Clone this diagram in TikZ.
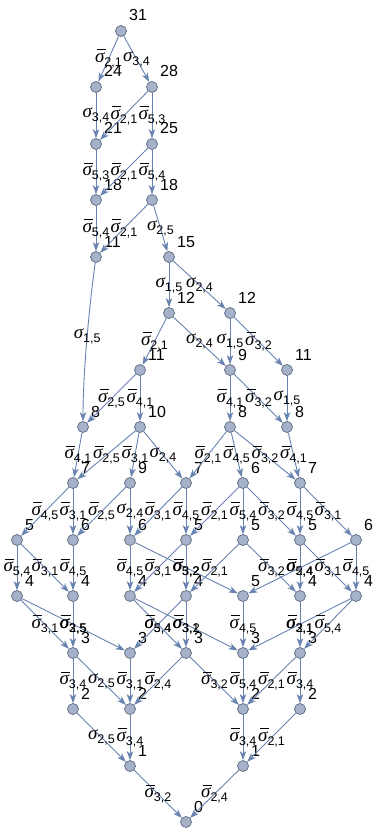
\documentclass[tikz,border=0pt]{standalone}
\usepackage{fontspec}
\setmainfont{Liberation Sans}
\newfontfamily\grk{Liberation Serif}
\usetikzlibrary{arrows.meta}
\definecolor{vfill}{RGB}{166,178,201}
\definecolor{vdraw}{RGB}{92,104,128}
\definecolor{ecol}{RGB}{104,131,176}
\newcommand\sg[1]{{\fontsize{19}{19}\grk\itshape σ}\raisebox{-4pt}{\fontsize{12.5}{12.5}\selectfont #1}}
\newcommand\sgb[1]{\makebox[0pt][l]{\hspace{1.5pt}\rule[12.5pt]{9pt}{0.9pt}}\sg{#1}}
\tikzset{
 vtx/.style={circle, fill=vfill, draw=vdraw, line width=0.7pt, minimum size=11pt, inner sep=0pt},
 edge/.style={draw=ecol, line width=0.9pt, -{Stealth[length=9pt,width=6.5pt,inset=2.5pt]}},
 elab/.style={inner sep=0pt, text=black, anchor=center},
 num/.style={font=\fontsize{16}{16}\selectfont, inner sep=0pt, anchor=base west},
}
\newcommand\Vx[4]{\node[vtx] (#1) at (#2,#3) {}; \node[num] (#1-l) at (#2+8,#3-10) {#4};}
\newcommand\Ed[3]{\draw[edge] (#1) -- node[elab]{#3} (#2);}
\begin{document}
\begin{tikzpicture}[x=1pt,y=-1pt]
\useasboundingbox (0,0) rectangle (377,829);
\Vx{n31}{121}{31}{31}
\Vx{n24}{96}{87}{24}
\Vx{n28}{152}{87}{28}
\Vx{n21}{96}{144}{21}
\Vx{n25}{152}{144}{25}
\Vx{n18a}{96}{200}{18}
\Vx{n18b}{152}{200}{18}
\Vx{n11a}{96}{257}{11}
\Vx{n15}{169}{257}{15}
\Vx{n12a}{169}{313}{12}
\Vx{n12b}{230}{313}{12}
\Vx{n11b}{140}{370}{11}
\Vx{n9a}{230}{370}{9}
\Vx{n11c}{287}{370}{11}
\Vx{n8a}{83}{427}{8}
\Vx{n10}{140}{427}{10}
\Vx{n8b}{230}{427}{8}
\Vx{n8c}{287}{427}{8}
\Vx{n7a}{73}{483}{7}
\Vx{n9b}{130}{483}{9}
\Vx{n7b}{186}{483}{7}
\Vx{n6a}{243}{483}{6}
\Vx{n7c}{300}{483}{7}
\Vx{n5a}{17}{540}{5}
\Vx{n6b}{73}{540}{6}
\Vx{n6c}{130}{540}{6}
\Vx{n5b}{186}{540}{5}
\Vx{n5c}{243}{540}{5}
\Vx{n5d}{300}{540}{5}
\Vx{n6d}{356}{540}{6}
\Vx{n4a}{17}{596}{4}
\Vx{n4b}{73}{596}{4}
\Vx{n4c}{130}{596}{4}
\Vx{n4d}{186}{596}{4}
\Vx{n5e}{243}{596}{5}
\Vx{n4e}{300}{596}{4}
\Vx{n4f}{356}{596}{4}
\Vx{n3a}{73}{653}{3}
\Vx{n3b}{130}{653}{3}
\Vx{n3c}{186}{653}{3}
\Vx{n3d}{243}{653}{3}
\Vx{n3e}{300}{653}{3}
\Vx{n2a}{73}{709}{2}
\Vx{n2b}{130}{709}{2}
\Vx{n2c}{243}{709}{2}
\Vx{n2d}{300}{709}{2}
\Vx{n1a}{130}{766}{1}
\Vx{n1b}{243}{766}{1}
\Vx{n0}{186}{822}{0}
\Ed{n31}{n24}{\sgb{2,1}}
\Ed{n31}{n28}{\sg{3,4}}
\Ed{n24}{n21}{\sg{3,4}}
\Ed{n28}{n21}{\sgb{2,1}}
\Ed{n28}{n25}{\sgb{5,3}}
\Ed{n21}{n18a}{\sgb{5,3}}
\Ed{n25}{n18a}{\sgb{2,1}}
\Ed{n25}{n18b}{\sgb{5,4}}
\Ed{n18a}{n11a}{\sgb{5,4}}
\Ed{n18b}{n11a}{\sgb{2,1}}
\Ed{n18b}{n15}{\sg{2,5}}
\draw[edge] (n11a) .. controls (90,300) and (83,370) .. node[elab]{\sg{1,5}} (n8a);
\Ed{n15}{n12a}{\sg{1,5}}
\Ed{n15}{n12b}{\sg{2,4}}
\Ed{n12a}{n11b}{\sgb{2,1}}
\Ed{n12a}{n9a}{\sg{2,4}}
\Ed{n12b}{n9a}{\sg{1,5}}
\Ed{n12b}{n11c}{\sgb{3,2}}
\Ed{n11b}{n8a}{\sgb{2,5}}
\Ed{n11b}{n10}{\sgb{4,1}}
\Ed{n9a}{n8b}{\sgb{4,1}}
\Ed{n9a}{n8c}{\sgb{3,2}}
\Ed{n11c}{n8c}{\sg{1,5}}
\Ed{n8a}{n7a}{\sgb{4,1}}
\Ed{n10}{n7a}{\sgb{2,5}}
\Ed{n10}{n9b}{\sgb{3,1}}
\Ed{n10}{n7b}{\sg{2,4}}
\Ed{n8b}{n7b}{\sgb{2,1}}
\Ed{n8b}{n6a}{\sgb{4,5}}
\Ed{n8b}{n7c}{\sgb{3,2}}
\Ed{n8c}{n7c}{\sgb{4,1}}
\Ed{n7a}{n5a}{\sgb{4,5}}
\Ed{n7a}{n6b}{\sgb{3,1}}
\Ed{n9b}{n6b}{\sgb{2,5}}
\Ed{n9b}{n6c}{\sg{2,4}}
\Ed{n7b}{n6c}{\sgb{3,1}}
\Ed{n7b}{n5b}{\sgb{4,5}}
\Ed{n6a}{n5b}{\sgb{2,1}}
\Ed{n6a}{n5c}{\sgb{5,4}}
\Ed{n6a}{n5d}{\sgb{3,2}}
\Ed{n7c}{n5d}{\sgb{4,5}}
\Ed{n7c}{n6d}{\sgb{3,1}}
\Ed{n5a}{n4a}{\sgb{5,4}}
\Ed{n5a}{n4b}{\sgb{3,1}}
\Ed{n6b}{n4b}{\sgb{4,5}}
\Ed{n6c}{n4c}{\sgb{4,5}}
\Ed{n6c}{n5e}{\sgb{3,2}}
\Ed{n5b}{n4c}{\sgb{3,1}}
\Ed{n5b}{n4d}{\sgb{5,2}}
\Ed{n5c}{n4d}{\sgb{2,1}}
\Ed{n5c}{n4e}{\sgb{3,2}}
\Ed{n5d}{n4e}{\sgb{2,4}}
\Ed{n6d}{n5e}{\sgb{5,4}}
\Ed{n5d}{n4f}{\sgb{3,1}}
\Ed{n6d}{n4f}{\sgb{4,5}}
\Ed{n4a}{n3a}{\sgb{3,1}}
\Ed{n4a}{n3b}{\sgb{2,5}}
\Ed{n4b}{n3a}{\sgb{3,5}}
\Ed{n4d}{n3b}{\sgb{3,4}}
\Ed{n4c}{n3c}{\sgb{5,4}}
\Ed{n4c}{n3d}{\sgb{3,2}}
\Ed{n4d}{n3c}{\sgb{3,1}}
\Ed{n5e}{n3d}{\sgb{4,5}}
\Ed{n4e}{n3e}{\sgb{2,1}}
\Ed{n4f}{n3d}{\sgb{3,1}}
\Ed{n4f}{n3e}{\sgb{5,4}}
\Ed{n3a}{n2a}{\sgb{3,4}}
\Ed{n3a}{n2b}{\sg{2,5}}
\Ed{n3b}{n2b}{\sgb{3,1}}
\Ed{n3c}{n2b}{\sgb{2,4}}
\Ed{n3c}{n2c}{\sgb{3,2}}
\Ed{n3d}{n2c}{\sgb{5,4}}
\Ed{n3e}{n2c}{\sgb{2,1}}
\Ed{n3e}{n2d}{\sgb{3,4}}
\Ed{n2a}{n1a}{\sg{2,5}}
\Ed{n2b}{n1a}{\sgb{3,4}}
\Ed{n2c}{n1b}{\sgb{3,4}}
\Ed{n2d}{n1b}{\sgb{2,1}}
\Ed{n1a}{n0}{\sgb{3,2}}
\Ed{n1b}{n0}{\sgb{2,4}}
\end{tikzpicture}
\end{document}
